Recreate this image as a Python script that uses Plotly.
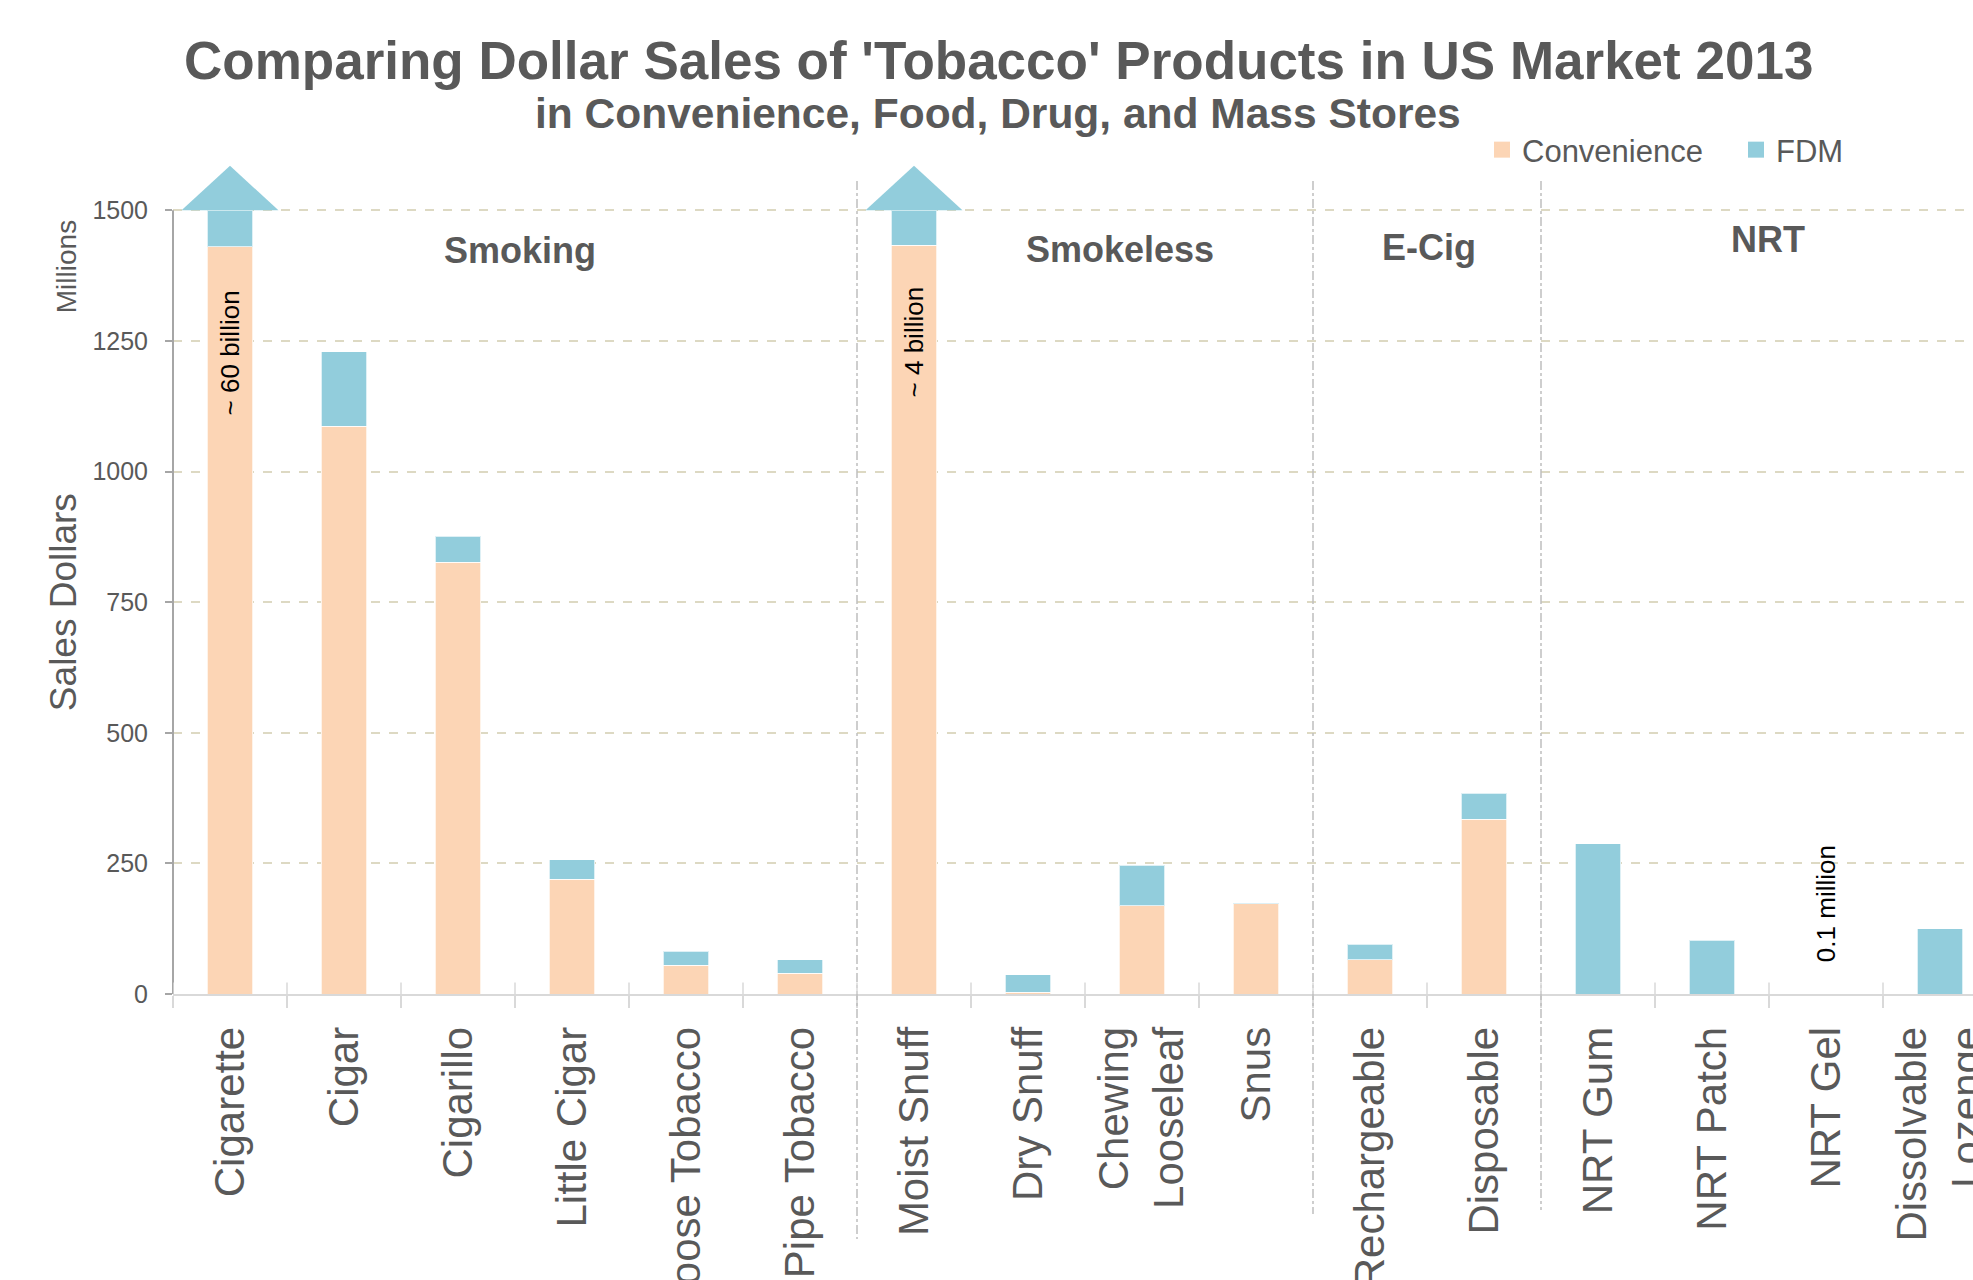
import plotly.graph_objects as go

# Dollar sales (millions), 2013, by product and channel
categories = [
    "Cigarette", "Cigar", "Cigarillo", "Little Cigar", "Loose Tobacco",
    "Pipe Tobacco", "Moist Snuff", "Dry Snuff", "Chewing<br>Looseleaf", "Snus",
    "Rechargeable", "Disposable", "NRT Gum", "NRT Patch", "NRT Gel",
    "Dissolvable<br>Lozenge",
]
# Cigarette and Moist Snuff are shown truncated at the 1500 axis top
convenience = [1430, 1087, 826, 220, 55, 40, 1433, 3, 169, 173, 66, 334, 0, 0, 0, 0]
fdm = [70, 142, 50, 37, 27, 26, 67, 34, 77, 2, 29, 50, 288, 103, 0.1, 125]

groups = ["Smoking", "Smokeless", "E-Cig", "NRT"]
group_sizes = [6, 4, 2, 4]

y_ticks = [0, 250, 500, 750, 1000, 1250, 1500]

truncated = {"Cigarette": "~ 60 billion", "Moist Snuff": "~ 4 billion"}
small_note = {"NRT Gel": "0.1 million"}

FONT = "Liberation Sans, Arial, sans-serif"
GREY_TXT = "#595959"
PEACH = "#FCD5B5"
AQUA = "#92CDDC"

W, H = 1973, 1280
ML, MT = 173, 158
PLOT_BOTTOM = 994
CAT_PX = 114.0
Y_TOP = 1600

fig = go.Figure()

fig.add_trace(go.Bar(
    x=categories, y=convenience, name="Convenience", showlegend=False,
    marker=dict(color=PEACH, line=dict(color="rgba(255,255,255,0.7)", width=1)),
    width=0.4,
))
fig.add_trace(go.Bar(
    x=categories, y=fdm, name="FDM", showlegend=False,
    marker=dict(color=AQUA, line=dict(color="rgba(255,255,255,0.7)", width=1)),
    width=0.4,
))
# legend entries with larger square swatches
for name, col in [("Convenience", PEACH), ("FDM", AQUA)]:
    fig.add_trace(go.Scatter(
        x=[None], y=[None], mode="markers", name=name,
        marker=dict(symbol="square", size=17, color=col),
    ))

shapes = []
annotations = []

# arrowheads on the truncated bars, with the full-size note inside the bar
note_y = {"Cigarette": 1226, "Moist Snuff": 1247, "NRT Gel": 172}
for i, cat in enumerate(categories):
    if cat in truncated:
        top = convenience[i] + fdm[i]
        shapes.append(dict(
            type="path", xref="x", yref="y", layer="above",
            path=f"M {i-0.425},{top} L {i},{top+85} L {i+0.425},{top} Z",
            fillcolor=AQUA, line=dict(width=0),
        ))
        annotations.append(dict(
            x=i, y=note_y[cat], xref="x", yref="y", text=truncated[cat],
            textangle=-90, showarrow=False,
            font=dict(family=FONT, size=26, color="black"),
        ))
    if cat in small_note:
        annotations.append(dict(
            x=i, y=note_y[cat], xref="x", yref="y", text=small_note[cat],
            textangle=-90, showarrow=False,
            font=dict(family=FONT, size=26, color="black"),
        ))

# group separators and group headings
plot_h = PLOT_BOTTOM - MT
def paper_y(px):
    return (PLOT_BOTTOM - px) / plot_h

sep_bottoms = [1239, 1214, 1210]
label_pos = [(2.54, 1423), (7.81, 1425), (10.52, 1429), (13.49, 1444)]
start = 0
for g, (name, size) in enumerate(zip(groups, group_sizes)):
    lx, ly = label_pos[g]
    annotations.append(dict(
        x=lx, y=ly, xref="x", yref="y", text=f"<b>{name}</b>", showarrow=False,
        font=dict(family=FONT, size=36, color=GREY_TXT), yanchor="middle",
    ))
    start += size
    if g < len(groups) - 1:
        shapes.append(dict(
            type="line", xref="x", yref="paper",
            x0=start - 0.5, x1=start - 0.5,
            y0=paper_y(181), y1=paper_y(sep_bottoms[g]),
            line=dict(color="#BFBFBF", width=1.5, dash="dashdot"),
        ))

# y axis line from 0 to 1500
shapes.append(dict(
    type="line", xref="paper", yref="y", x0=0, x1=0, y0=0, y1=y_ticks[-1],
    line=dict(color="#A6A6A6", width=2),
))
# upper half of the category boundary ticks
for k in range(len(categories) + 1):
    shapes.append(dict(
        type="line", xref="x", yref="y", x0=k - 0.5, x1=k - 0.5, y0=0, y1=22,
        line=dict(color="#D9D9D9", width=1.5), layer="above",
    ))

# titles and axis captions
annotations += [
    dict(x=(998 - ML) / 1800, y=paper_y(60), xref="paper", yref="paper",
         text="<b>Comparing Dollar Sales of 'Tobacco' Products in US Market 2013</b>",
         showarrow=False, xanchor="center", yanchor="middle",
         font=dict(family=FONT, size=53, color=GREY_TXT)),
    dict(x=(998 - ML) / 1800, y=paper_y(113), xref="paper", yref="paper",
         text="<b>in Convenience, Food, Drug, and Mass Stores</b>",
         showarrow=False, xanchor="center", yanchor="middle",
         font=dict(family=FONT, size=42.5, color=GREY_TXT)),
    dict(x=(63 - ML) / 1800, y=750, xref="paper", yref="y",
         text="Sales Dollars", textangle=-90, showarrow=False,
         xanchor="center", yanchor="middle",
         font=dict(family=FONT, size=37, color=GREY_TXT)),
    dict(x=(66 - ML) / 1800, y=1391, xref="paper", yref="y",
         text="Millions", textangle=-90, showarrow=False,
         xanchor="center", yanchor="middle",
         font=dict(family=FONT, size=28, color=GREY_TXT)),
]

fig.update_layout(
    width=W, height=H,
    margin=dict(l=ML, r=0, t=MT, b=H - PLOT_BOTTOM, autoexpand=False),
    barmode="stack",
    paper_bgcolor="white", plot_bgcolor="white",
    font=dict(family=FONT, color=GREY_TXT),
    shapes=shapes, annotations=annotations,
    legend=dict(
        orientation="h", xref="container", yref="container",
        x=1482 / W, y=1 - 123 / H, xanchor="left", yanchor="top",
        font=dict(family=FONT, size=31, color=GREY_TXT),
        bgcolor="rgba(0,0,0,0)", entrywidth=209, traceorder="normal",
    ),
    xaxis=dict(
        type="category", range=[-0.5, -0.5 + (W - ML) / CAT_PX],
        tickson="boundaries", ticks="outside", ticklen=12, tickwidth=1.5,
        tickcolor="#D9D9D9", showline=True, linecolor="#D9D9D9", linewidth=2,
        showgrid=False, tickangle=-90, automargin=False,
        tickfont=dict(family=FONT, size=42, color=GREY_TXT),
        ticklabelstandoff=14,
    ),
    yaxis=dict(
        range=[0, Y_TOP], tickvals=y_ticks, ticktext=[str(v) for v in y_ticks],
        ticks="outside", ticklen=7, tickwidth=2, tickcolor="#A6A6A6",
        showline=False, zeroline=False,
        showgrid=True, gridcolor="#DDD9C3", gridwidth=1.5, griddash="dash",
        automargin=False, tickfont=dict(family=FONT, size=25, color=GREY_TXT),
        ticklabelstandoff=12,
    ),
)

fig.write_html("out.html")
